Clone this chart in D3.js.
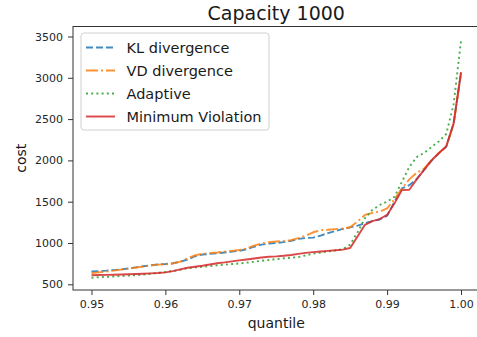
<!DOCTYPE html>
<html>
<head>
<meta charset="utf-8">
<script src="https://cdn.jsdelivr.net/npm/d3@7"></script>
<style>
  body { margin: 0; background: #fff; }
  svg { display: block; font-family: "DejaVu Sans", sans-serif; }
</style>
</head>
<body>
<div id="chart"></div>
<script>
// quantiles on the x axis
const quantiles = [
  0.950, 0.951, 0.952, 0.953, 0.954, 0.955, 0.956, 0.957, 0.958, 0.959,
  0.960, 0.961, 0.962, 0.963, 0.964, 0.965, 0.966, 0.967, 0.968, 0.969,
  0.970, 0.971, 0.972, 0.973, 0.974, 0.975, 0.976, 0.977, 0.978, 0.979,
  0.980, 0.981, 0.982, 0.983, 0.984, 0.985, 0.986, 0.987, 0.988, 0.989,
  0.990, 0.991, 0.992, 0.993, 0.994, 0.995, 0.996, 0.997, 0.998, 0.999,
  1.000
];

const klDivergence = [
  655, 660, 665, 672, 680, 692, 705, 718, 730, 740,
  745, 755, 772, 800, 840, 860, 868, 875, 885, 895,
  905, 925, 955, 980, 992, 1000, 1010, 1025, 1050, 1060,
  1065, 1090, 1120, 1145, 1170, 1190, 1210, 1240, 1265, 1285,
  1330, 1500, 1660, 1700, 1775, 1885, 1995, 2085, 2165, 2445,
  3060
];

const vdDivergence = [
  635, 645, 655, 665, 678, 690, 702, 715, 728, 738,
  742, 752, 775, 815, 850, 870, 878, 885, 895, 905,
  915, 935, 968, 995, 1010, 1018, 1025, 1035, 1060, 1090,
  1130, 1155, 1160, 1168, 1175, 1190, 1260, 1340, 1365, 1380,
  1420, 1530, 1660, 1770, 1850, 1900, 2000, 2088, 2165, 2440,
  3050
];

const adaptive = [
  580, 585, 590, 595, 600, 605, 610, 618, 628, 638,
  648, 660, 675, 695, 705, 712, 720, 730, 738, 745,
  752, 762, 772, 785, 795, 805, 815, 822, 830, 850,
  870, 885, 898, 910, 925, 980, 1130, 1300, 1400, 1460,
  1500, 1560, 1740, 1920, 2040, 2090, 2160, 2230, 2320, 2680,
  3450
];

const minViolation = [
  610, 612, 614, 616, 618, 621, 624, 628, 632, 636,
  645, 660, 680, 700, 713, 725, 740, 755, 765, 778,
  790, 800, 812, 825, 833, 838, 845, 855, 868, 880,
  890, 897, 905, 912, 920, 940, 1080, 1220, 1265, 1290,
  1340, 1480, 1640, 1645, 1770, 1885, 2000, 2090, 2170, 2450,
  3070
];

const xTicks = [0.95, 0.96, 0.97, 0.98, 0.99, 1.00];
const yTicks = [500, 1000, 1500, 2000, 2500, 3000, 3500];

const seriesNames = ['KL divergence', 'VD divergence', 'Adaptive', 'Minimum Violation'];
const seriesValues = [klDivergence, vdDivergence, adaptive, minViolation];
const seriesColors = ['#1f77b4', '#ff7f0e', '#2ca02c', '#d62728'];
const seriesDashes = ['7,3', '12,3,2,3', '2,3.2', null];

const width = 477, height = 337;
const plot = { left: 73, right: 479.5, top: 26.5, bottom: 290 };

const svg = d3.select('#chart')
  .append('svg')
  .attr('width', width)
  .attr('height', height);

const x = d3.scaleLinear()
  .domain([0.9475, 1.0025])
  .range([plot.left, plot.right]);

const y = d3.scaleLinear()
  .domain([431, 3621])
  .range([plot.bottom, plot.top]);

// axes
const xAxis = svg.append('g')
  .attr('transform', `translate(0,${plot.bottom})`)
  .call(d3.axisBottom(x).tickValues(xTicks).tickFormat(d3.format('.2f')).tickSize(5).tickPadding(5));

const yAxis = svg.append('g')
  .attr('transform', `translate(${plot.left},0)`)
  .call(d3.axisLeft(y).tickValues(yTicks).tickFormat(d3.format('d')).tickSize(5).tickPadding(5));

[xAxis, yAxis].forEach(g => {
  g.select('.domain').remove();
  g.selectAll('.tick line').attr('stroke', '#333');
  g.selectAll('.tick text')
    .attr('fill', '#262626')
    .style('font-size', '11px')
    .style('font-family', '"DejaVu Sans", sans-serif');
});

// lines
const line = d3.line()
  .x((d, i) => x(quantiles[i]))
  .y(d => y(d));

const plotArea = svg.append('g');

seriesValues.forEach((vals, i) => {
  plotArea.append('path')
    .datum(vals)
    .attr('fill', 'none')
    .attr('stroke', seriesColors[i])
    .attr('stroke-opacity', 0.85)
    .attr('stroke-width', 1.9)
    .attr('stroke-dasharray', seriesDashes[i])
    .attr('stroke-linejoin', 'round')
    .attr('d', line);
});

// spines
svg.append('rect')
  .attr('x', plot.left)
  .attr('y', plot.top)
  .attr('width', plot.right - plot.left)
  .attr('height', plot.bottom - plot.top)
  .attr('fill', 'none')
  .attr('stroke', '#333')
  .attr('stroke-width', 1);

// title and axis labels
svg.append('text')
  .attr('x', (plot.left + plot.right) / 2)
  .attr('y', 20)
  .attr('text-anchor', 'middle')
  .attr('fill', '#1a1a1a')
  .style('font-size', '19px')
  .text('Capacity 1000');

svg.append('text')
  .attr('x', (plot.left + plot.right) / 2)
  .attr('y', 328)
  .attr('text-anchor', 'middle')
  .attr('fill', '#1a1a1a')
  .style('font-size', '14px')
  .text('quantile');

svg.append('text')
  .attr('transform', `translate(26,${(plot.top + plot.bottom) / 2}) rotate(-90)`)
  .attr('text-anchor', 'middle')
  .attr('fill', '#1a1a1a')
  .style('font-size', '14px')
  .text('cost');

// legend
const legend = svg.append('g').attr('transform', 'translate(81,33)');

legend.append('rect')
  .attr('width', 188)
  .attr('height', 97)
  .attr('rx', 3)
  .attr('fill', '#fff')
  .attr('fill-opacity', 0.8)
  .attr('stroke', '#d0d0d0')
  .attr('stroke-width', 1);

seriesNames.forEach((name, i) => {
  const row = legend.append('g').attr('transform', `translate(0,${14.5 + i * 23})`);
  row.append('line')
    .attr('x1', 5).attr('x2', 34)
    .attr('y1', 0).attr('y2', 0)
    .attr('stroke', seriesColors[i])
    .attr('stroke-opacity', 0.85)
    .attr('stroke-width', 1.9)
    .attr('stroke-dasharray', seriesDashes[i]);
  row.append('text')
    .attr('x', 45.5)
    .attr('y', 5.2)
    .attr('fill', '#1a1a1a')
    .style('font-size', '14.5px')
    .text(name);
});
</script>
</body>
</html>
